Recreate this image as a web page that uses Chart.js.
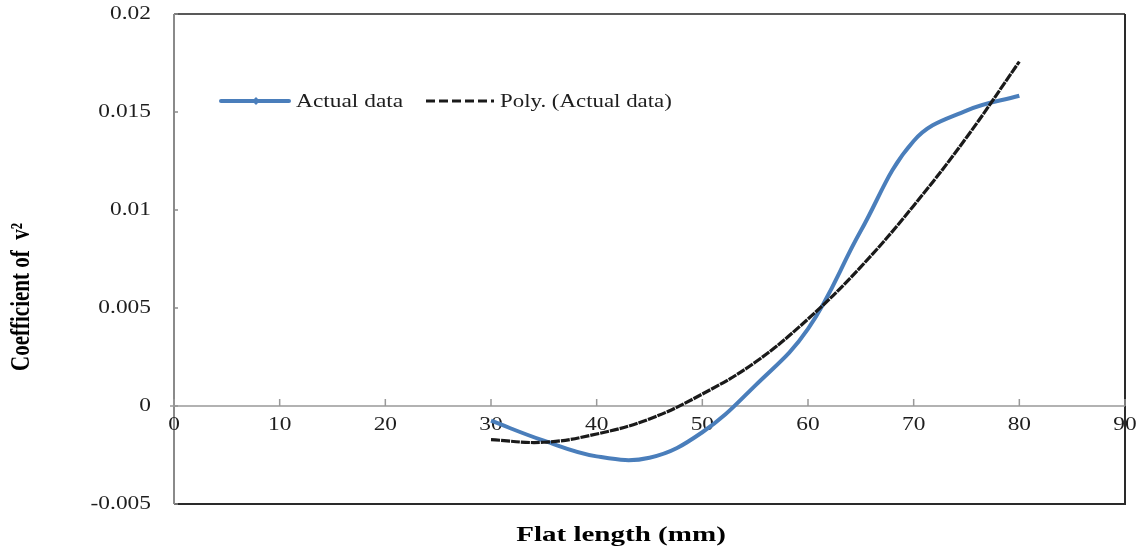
<!DOCTYPE html>
<html>
<head>
<meta charset="utf-8">
<script src="https://cdn.jsdelivr.net/npm/chart.js@4.4.1/dist/chart.umd.min.js"></script>
<style>
  html, body { margin: 0; padding: 0; background: #fff; }
  #wrap { width: 1143px; height: 554px; }
</style>
</head>
<body>
<div id="wrap"><canvas id="coef-chart" width="1143" height="554"></canvas></div>
<script>
// Coefficient of v^2 vs flat length
const flatLength = [30, 35, 40, 45, 50, 55, 60, 65, 70, 75, 80];
const actualCoeff = [-0.00075, -0.00177, -0.00257, -0.00264, -0.00134, 0.00104, 0.00393, 0.00894, 0.01352, 0.01507, 0.01583];

const polyLength = [30, 35, 40, 45, 50, 55, 60, 65, 70, 75, 80];
const polyCoeff = [-0.00172, -0.00185, -0.00143, -0.00066, 0.00061, 0.00223, 0.00444, 0.0071, 0.01022, 0.0137, 0.01757];

const xTicks = [0, 10, 20, 30, 40, 50, 60, 70, 80, 90];
const yTicks = [-0.005, 0, 0.005, 0.01, 0.015, 0.02];
const yTickLabels = ['-0.005', '0', '0.005', '0.01', '0.015', '0.02'];

const seriesNames = ['Actual data', 'Poly. (Actual data)'];
const xTitle = 'Flat length (mm)';
const yTitle = 'Coefficient of  v\u00B2';

const SERIF = '"Liberation Serif", "Times New Roman", serif';
const STRETCH = 1.3;

function stretchedText(ctx, text, x, y, align, sx) {
  ctx.save();
  ctx.translate(x, y);
  ctx.scale(sx, 1);
  ctx.textAlign = align;
  ctx.fillText(text, 0, 0);
  ctx.restore();
}

const framePlugin = {
  id: 'frame',
  beforeDatasetsDraw(chart) {
    const { ctx, chartArea: area, scales } = chart;
    const xs = scales.x;
    const ys = scales.y;
    const y0 = ys.getPixelForValue(0);

    ctx.save();
    // box
    ctx.lineWidth = 1.5;
    ctx.strokeStyle = '#222';
    ctx.beginPath();
    ctx.moveTo(area.left, area.top);
    ctx.lineTo(area.right, area.top);
    ctx.stroke();
    ctx.lineWidth = 2;
    ctx.strokeStyle = '#2a2a2a';
    ctx.beginPath();
    ctx.moveTo(area.right, area.top);
    ctx.lineTo(area.right, area.bottom);
    ctx.lineTo(area.left, area.bottom);
    ctx.stroke();
    ctx.strokeStyle = '#8a8a8a';
    ctx.beginPath();
    ctx.moveTo(area.left, area.top);
    ctx.lineTo(area.left, area.bottom);
    ctx.stroke();

    // y ticks
    ctx.lineWidth = 1.5;
    yTicks.forEach((v) => {
      const py = ys.getPixelForValue(v);
      ctx.beginPath();
      ctx.moveTo(area.left, py);
      ctx.lineTo(area.left + 4, py);
      ctx.stroke();
    });

    // zero axis and x ticks
    ctx.strokeStyle = '#999';
    ctx.beginPath();
    ctx.moveTo(area.left - 4, y0);
    ctx.lineTo(area.right, y0);
    ctx.stroke();
    xTicks.forEach((v) => {
      const px = xs.getPixelForValue(v);
      ctx.beginPath();
      ctx.moveTo(px, y0);
      ctx.lineTo(px, y0 - 7);
      ctx.stroke();
    });

    // tick labels
    ctx.fillStyle = '#1e1e1e';
    ctx.font = '18px ' + SERIF;
    ctx.textBaseline = 'middle';
    yTicks.forEach((v, i) => {
      stretchedText(ctx, yTickLabels[i], area.left - 23, ys.getPixelForValue(v), 'right', STRETCH);
    });
    xTicks.forEach((v) => {
      stretchedText(ctx, String(v), xs.getPixelForValue(v), y0 + 19, 'center', STRETCH);
    });

    // axis titles
    ctx.fillStyle = '#000';
    ctx.font = 'bold 22px ' + SERIF;
    ctx.textBaseline = 'middle';
    stretchedText(ctx, xTitle, 621, 535, 'center', 1.32);

    ctx.save();
    ctx.translate(22, 297);
    ctx.rotate(-Math.PI / 2);
    ctx.scale(1, STRETCH);
    ctx.font = 'bold 21px ' + SERIF;
    ctx.textAlign = 'center';
    ctx.fillText(yTitle, 0, 0);
    ctx.restore();

    ctx.restore();
  },
  afterDatasetsDraw(chart) {
    const { ctx } = chart;
    const ly = 101;
    ctx.save();
    // actual data sample
    ctx.strokeStyle = '#4a7ebb';
    ctx.lineWidth = 4;
    ctx.lineCap = 'round';
    ctx.beginPath();
    ctx.moveTo(221, ly);
    ctx.lineTo(289, ly);
    ctx.stroke();
    ctx.fillStyle = '#4a7ebb';
    ctx.beginPath();
    ctx.moveTo(256, ly - 4);
    ctx.lineTo(260, ly);
    ctx.lineTo(256, ly + 4);
    ctx.lineTo(252, ly);
    ctx.closePath();
    ctx.fill();

    // poly sample
    ctx.strokeStyle = '#1a1a1a';
    ctx.lineWidth = 3;
    ctx.lineCap = 'butt';
    ctx.setLineDash([9, 4]);
    ctx.beginPath();
    ctx.moveTo(426, ly);
    ctx.lineTo(494, ly);
    ctx.stroke();
    ctx.setLineDash([]);

    ctx.fillStyle = '#1e1e1e';
    ctx.font = '18px ' + SERIF;
    ctx.textBaseline = 'middle';
    stretchedText(ctx, seriesNames[0], 296, ly + 1, 'left', STRETCH);
    stretchedText(ctx, seriesNames[1], 500, ly + 1, 'left', 1.27);
    ctx.restore();
  }
};

const ctx = document.getElementById('coef-chart');

new Chart(ctx, {
  type: 'scatter',
  data: {
    datasets: [{
      label: seriesNames[0],
      data: flatLength.map((x, i) => ({ x, y: actualCoeff[i] })),
      showLine: true,
      borderColor: '#4a7ebb',
      backgroundColor: '#4a7ebb',
      borderWidth: 4,
      pointRadius: 0,
      tension: 0.4,
      order: 1
    }, {
      label: seriesNames[1],
      data: polyLength.map((x, i) => ({ x, y: polyCoeff[i] })),
      showLine: true,
      borderColor: '#1a1a1a',
      backgroundColor: '#1a1a1a',
      borderWidth: 3.2,
      borderDash: [9, 1],
      pointRadius: 0,
      tension: 0.4,
      order: 0
    }]
  },
  options: {
    responsive: false,
    animation: false,
    layout: {
      padding: { left: 174, top: 14, right: 18, bottom: 50 }
    },
    plugins: {
      legend: { display: false },
      tooltip: { enabled: false }
    },
    scales: {
      x: { type: 'linear', display: false, min: 0, max: 90 },
      y: { type: 'linear', display: false, min: -0.005, max: 0.02 }
    }
  },
  plugins: [framePlugin]
});
</script>
</body>
</html>
